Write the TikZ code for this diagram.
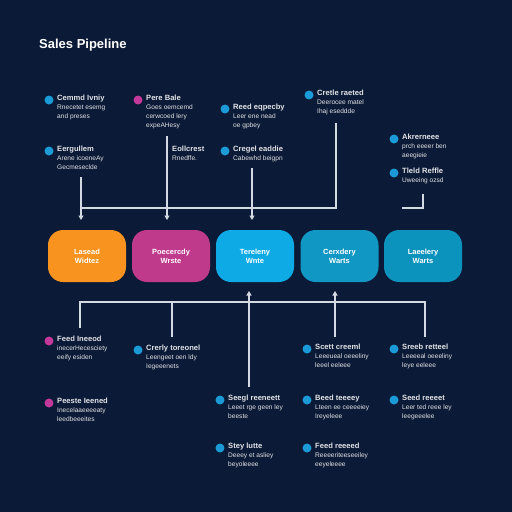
\documentclass[tikz,border=0pt]{standalone}
\usepackage{fontspec}
\setmainfont{Liberation Sans}
\usetikzlibrary{arrows.meta}
\definecolor{bg}{HTML}{0B1A36}
\definecolor{linecol}{HTML}{D4DAE4}
\definecolor{cdot}{HTML}{1A9AD6}
\definecolor{mdot}{HTML}{C2399A}
\definecolor{pA}{HTML}{F7931E}
\definecolor{pB}{HTML}{C03A8C}
\definecolor{pC}{HTML}{0DAAE6}
\definecolor{pD}{HTML}{1097C3}
\definecolor{pE}{HTML}{0B92BD}
\tikzset{
  pill/.style={rounded corners=15pt, minimum width=78pt, minimum height=52pt, text=white,
    font=\fontsize{7.5}{9}\selectfont\bfseries, align=center, inner sep=0},
  bdot/.style={circle, inner sep=0, minimum size=9pt},
  itemtxt/.style={anchor=north west, inner sep=0, align=left, text=white!88!bg,
    font=\fontsize{6.6}{8.8}\selectfont},
  conn/.style={draw=linecol, line width=1.1pt},
  arr/.style={conn, -{Triangle[width=5pt,length=4.5pt]}},
}
\newcommand{\bitem}[6]{%
  \node[bdot, fill=#4] (#1d) at (#2,#3) {};
  \node[itemtxt] (#1) at ({#2+8},{#3-4.9}) {{\fontsize{7.6}{8.8}\selectfont\bfseries #5}\\#6};
}
\begin{document}
\begin{tikzpicture}[x=1pt,y=-1pt]
\fill[bg] (0,0) rectangle (512,512);
\useasboundingbox (0,0) rectangle (512,512);

\node[anchor=west, inner sep=0, text=white, font=\fontsize{13}{15}\selectfont\bfseries] (title) at (39,45) {Sales Pipeline};

% pills
\node[pill, fill=pA] (p1) at (87,256) {Lasead\\Widtez};
\node[pill, fill=pB] (p2) at (171,256) {Poecercdy\\Wrste};
\node[pill, fill=pC] (p3) at (255,256) {Tereleny\\Wnte};
\node[pill, fill=pD] (p4) at (339.5,256) {Cerxdery\\Warts};
\node[pill, fill=pE] (p5) at (423,256) {Laeelery\\Warts};

% top items
\bitem{iA}{49}{100}{cdot}{Cemmd Ivniy}{Rnecetet esemg\\and preses}
\bitem{iB}{138}{100}{mdot}{Pere Bale}{Goes oemcemd\\cerwcoed lery\\expeAHesy}
\bitem{iC}{49}{151}{cdot}{Eergullem}{Arene icoeneAy\\Gecmeseclde}
\node[itemtxt] (iD) at (172,146.1) {{\fontsize{7.6}{8.8}\selectfont\bfseries Eollcrest}\\Rnedffe.};
\bitem{iE}{225}{109}{cdot}{Reed eqpecby}{Leer ene nead\\oe gpbey}
\bitem{iF}{225}{151}{cdot}{Cregel eaddie}{Cabewhd beigpn}
\bitem{iG}{309}{95}{cdot}{Cretle raeted}{Deerocee matel\\Ihaj eseddde}
\bitem{iH}{394}{139}{cdot}{Akrerneee}{prch eeeer ben\\aeegieie}
\bitem{iI}{394}{173}{cdot}{Tleld Reffle}{Uweeing ozsd}

% bottom items
\bitem{iJ}{49}{341}{mdot}{Feed Ineeod}{inecerHecesciety\\eeify esiden}
\bitem{iK}{138}{350}{cdot}{Crerly toreonel}{Leengeet oen ldy\\Iegeeenets}
\bitem{iL}{49}{403}{mdot}{Peeste Ieened}{Inecelaaeeeeaty\\leedbeeeites}
\bitem{iM}{220}{400}{cdot}{Seegl reeneett}{Leeet rge geen ley\\beeste}
\bitem{iN}{220}{448}{cdot}{Stey lutte}{Deeey et asliey\\beyoleeee}
\bitem{iO}{307}{349}{cdot}{Scett creeml}{Leeeueal oeeeliny\\leeel eeleee}
\bitem{iP}{394}{349}{cdot}{Sreeb retteel}{Leeeeal oeeeliny\\leye eeleee}
\bitem{iQ}{307}{400}{cdot}{Beed teeeey}{Lteen ee ceeeeiey\\Ireyeleee}
\bitem{iR}{394}{400}{cdot}{Seed reeeet}{Leer ted reee ley\\leegeeelee}
\bitem{iS}{307}{448}{cdot}{Feed reeeed}{Reeeeriteeseeiley\\eeyeleeee}

% top connector coordinates
\coordinate (a1s) at (81,177);  \coordinate (a1e) at (81,220);
\coordinate (a2s) at (167,136); \coordinate (a2e) at (167,220);
\coordinate (a3s) at (252,168); \coordinate (a3e) at (252,220);
\coordinate (h1l) at (81,208);  \coordinate (h1r) at (336,208);
\coordinate (g1) at (336,123);
\coordinate (l1a) at (402,208); \coordinate (l1b) at (423,208); \coordinate (l1c) at (423,194);

\draw[conn] (g1) -- (h1r) -- (h1l);
\draw[arr] (a1s) -- (a1e);
\draw[arr] (a2s) -- (a2e);
\draw[arr] (a3s) -- (a3e);
\draw[conn] (l1a) -- (l1b) -- (l1c);

% bottom connector coordinates
\coordinate (b1) at (80,328);  \coordinate (b1t) at (80,302);
\coordinate (b2) at (172,337); \coordinate (b2t) at (172,302);
\coordinate (b5) at (425,337); \coordinate (b5t) at (425,302);
\coordinate (u1s) at (249,387); \coordinate (u1e) at (249,291);
\coordinate (u2s) at (335,337); \coordinate (u2e) at (335,291);

\draw[conn] (b1) -- (b1t) -- (b5t) -- (b5);
\draw[conn] (b2t) -- (b2);
\draw[arr] (u1s) -- (u1e);
\draw[arr] (u2s) -- (u2e);
\end{tikzpicture}
\end{document}
